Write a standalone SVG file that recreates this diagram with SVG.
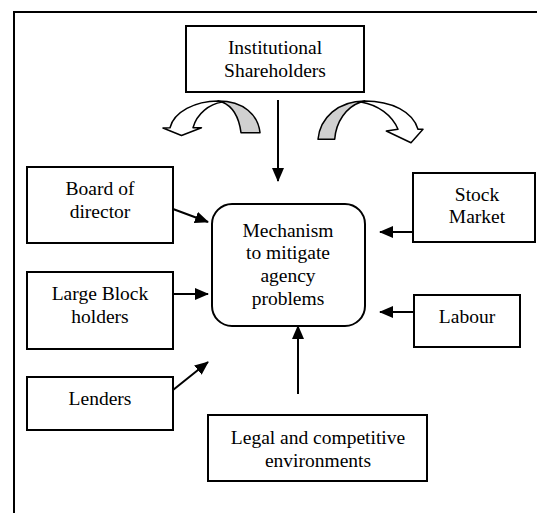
<svg xmlns="http://www.w3.org/2000/svg" width="537" height="513" viewBox="0 0 537 513">
<style>
.box{fill:#fff;stroke:#000;stroke-width:2}
.t{font-family:'Liberation Serif','Times New Roman',serif;font-size:19.5px;fill:#000;text-anchor:middle}
.c{stroke:#000;stroke-width:2;fill:none}
.cw{fill:#fff;stroke:#000;stroke-width:1.5;stroke-linejoin:round}
.cg{fill:#d0d0d0;stroke:#000;stroke-width:1.5;stroke-linejoin:round}
</style>
<defs>
<marker id="ah" viewBox="0 0 14 12" refX="13" refY="6" markerWidth="14" markerHeight="12" markerUnits="userSpaceOnUse" orient="auto">
<path d="M0,0 L14,6 L0,12 Z" fill="#000"/>
</marker>
</defs>
<rect width="537" height="513" fill="#fff"/>
<path d="M14,513 L14,12 L537,12" fill="none" stroke="#000" stroke-width="2"/>

<g id="institutional">
<rect class="box" x="186" y="26" width="178" height="66"/>
<text class="t" x="275" y="54">Institutional</text>
<text class="t" x="275" y="77">Shareholders</text>
</g>
<g id="board">
<rect class="box" x="27" y="167" width="146" height="76"/>
<text class="t" x="100" y="195">Board of</text>
<text class="t" x="100" y="218">director</text>
</g>
<g id="blockholders">
<rect class="box" x="27" y="272" width="146" height="77"/>
<text class="t" x="100" y="300">Large Block</text>
<text class="t" x="100" y="323">holders</text>
</g>
<g id="lenders">
<rect class="box" x="27" y="377" width="146" height="53"/>
<text class="t" x="100" y="405">Lenders</text>
</g>
<g id="legal">
<rect class="box" x="208" y="415" width="219" height="66"/>
<text class="t" x="318" y="444">Legal and competitive</text>
<text class="t" x="318" y="467">environments</text>
</g>
<g id="labour">
<rect class="box" x="414" y="295" width="106" height="52"/>
<text class="t" x="467" y="323">Labour</text>
</g>
<g id="stock">
<rect class="box" x="413" y="173" width="122" height="69"/>
<text class="t" x="477" y="201">Stock</text>
<text class="t" x="477" y="223">Market</text>
</g>
<g id="mechanism">
<rect class="box" x="212" y="204" width="153" height="122" rx="20" ry="20"/>
<text class="t" x="288" y="237">Mechanism</text>
<text class="t" x="288" y="259">to mitigate</text>
<text class="t" x="288" y="282">agency</text>
<text class="t" x="288" y="305">problems</text>
</g>

<g id="connectors">
<line class="c" x1="278" y1="100" x2="278" y2="181" marker-end="url(#ah)"/>
<line class="c" x1="173" y1="209" x2="208" y2="222" marker-end="url(#ah)"/>
<line class="c" x1="173" y1="294" x2="208" y2="294" marker-end="url(#ah)"/>
<line class="c" x1="173" y1="390" x2="208" y2="362" marker-end="url(#ah)"/>
<line class="c" x1="413" y1="232" x2="380" y2="232" marker-end="url(#ah)"/>
<line class="c" x1="414" y1="312" x2="380" y2="312" marker-end="url(#ah)"/>
<line class="c" x1="298" y1="394" x2="298" y2="326" marker-end="url(#ah)"/>
</g>

<g id="curved-left">
<path class="cg" d="M218,101 C244,101 258,115 260,132.7 L241,132.7 C239,117 232,106 222,102 Z"/>
<path class="cw" d="M218,101 C195,101 174,112 170,127.7 L163,128 L181.5,135.5 L201.5,127.7 L193,127.7 C197,113 210,104 222,102 Z"/>
</g>
<g id="curved-right">
<path class="cg" d="M364.7,101 C338,101 320,118 318,139.3 L334.7,139.3 C336,122 346,107 361,102 Z"/>
<path class="cw" d="M364.7,101 C392,101 413,112 418,129.3 L423,129.3 L411,142.7 L386.3,131 L398,129.3 C392,115 378,105 361,102 Z"/>
</g>
</svg>
